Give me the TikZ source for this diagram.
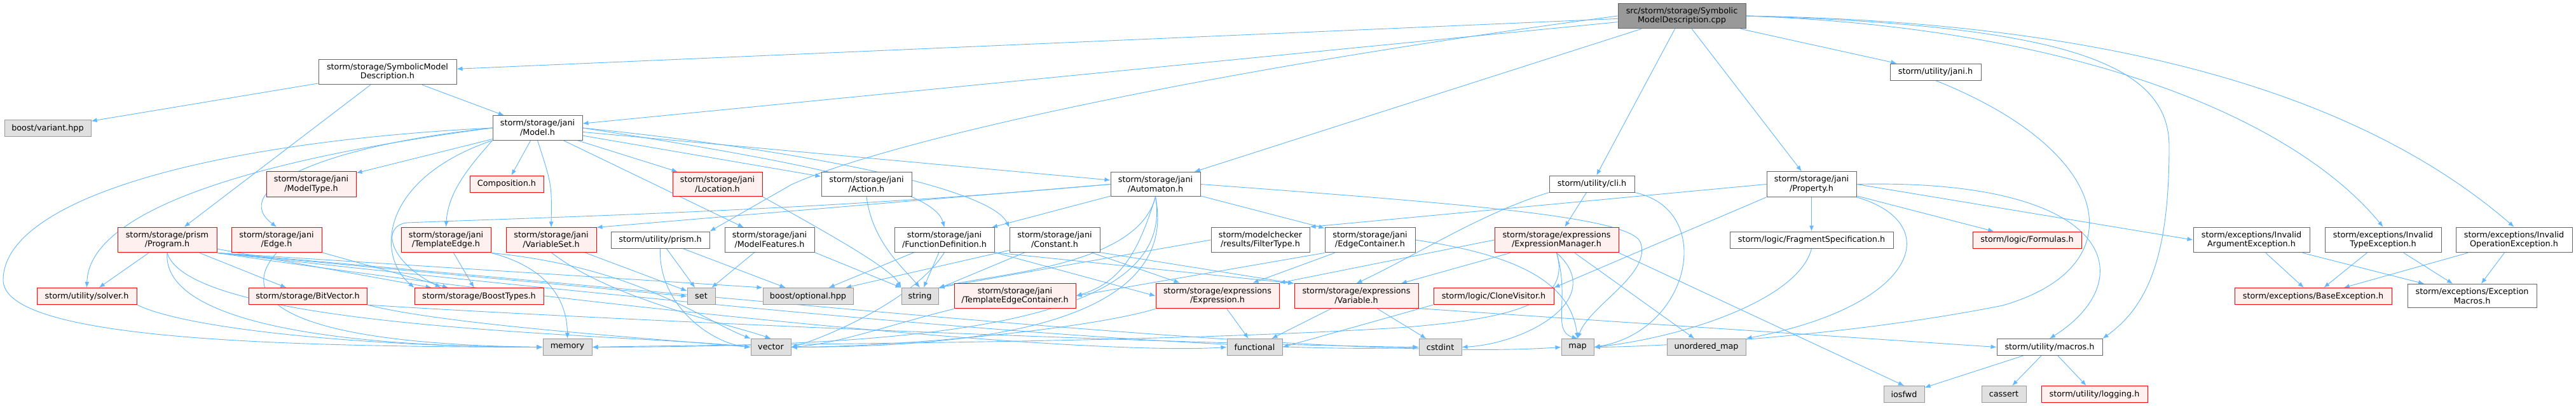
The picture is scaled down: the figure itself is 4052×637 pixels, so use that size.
\documentclass[tikz,border=0pt]{standalone}
\usepackage{fontspec}
\setmainfont{DejaVu Sans}
\usepackage{xcolor}
\usepackage{tikz}
\usetikzlibrary{arrows.meta, backgrounds}

\definecolor{edgeblue}{HTML}{63B8FF}
\definecolor{redfill}{HTML}{FFF0F0}
\definecolor{sysfill}{HTML}{E0E0E0}
\definecolor{sysdraw}{HTML}{999999}
\definecolor{filedraw}{HTML}{666666}
\definecolor{rootfill}{HTML}{999999}

\tikzset{
    file/.style={draw=filedraw, fill=white, line width=1pt, align=center,
        font=\fontsize{12.8}{14.6}\selectfont, inner xsep=4pt, inner ysep=6.4pt,
        minimum height=26pt},
    redfile/.style={file, draw=red, fill=redfill},
    sysfile/.style={file, draw=sysdraw, fill=sysfill},
    rootfile/.style={file, fill=rootfill},
    wd/.style={minimum width=#1pt},
    dep/.style={->, draw=edgeblue, line width=0.9pt}
}

\begin{document}
\begin{tikzpicture}[x=1pt, y=-1pt, >={Latex[length=9pt, width=7pt]}]
    \useasboundingbox (0,0) rectangle (4052,637);

    % Tầng 0 và 1: file gốc và các header trực tiếp
    \node[rootfile, wd=201] (root) at (2645.5,25) {src/storm/storage/Symbolic\\ModelDescription.cpp};
    \node[file, wd=217] (smd) at (609.5,113) {storm/storage/SymbolicModel\\Description.h};
    \node[file, wd=143] (janiutil) at (3044.5,113) {storm/utility/jani.h};
    \node[sysfile, wd=136] (variant) at (75,201.5) {boost/variant.hpp};
    \node[file, wd=141] (model) at (845.5,201) {storm/storage/jani\\/Model.h};

    % Tầng 2
    \node[redfile, wd=141] (modeltype) at (489.5,289.5) {storm/storage/jani\\/ModelType.h};
    \node[redfile, wd=116] (composition) at (797,289) {Composition.h};
    \node[redfile, wd=141] (location) at (1128.5,289.5) {storm/storage/jani\\/Location.h};
    \node[file, wd=142] (action) at (1363,289.5) {storm/storage/jani\\/Action.h};
    \node[file, wd=141] (automaton) at (1817.5,289.5) {storm/storage/jani\\/Automaton.h};
    \node[file, wd=134] (cli) at (2504,289) {storm/utility/cli.h};
    \node[file, wd=141] (property) at (2849.5,289.5) {storm/storage/jani\\/Property.h};

    % Tầng 3
    \node[redfile, wd=156] (program) at (263,377) {storm/storage/prism\\/Program.h};
    \node[redfile, wd=142] (edge) at (435,377) {storm/storage/jani\\/Edge.h};
    \node[redfile, wd=141] (templateedge) at (701.5,377) {storm/storage/jani\\/TemplateEdge.h};
    \node[redfile, wd=142] (variableset) at (867,377) {storm/storage/jani\\/VariableSet.h};
    \node[file, wd=155] (prismutil) at (1038.5,377) {storm/utility/prism.h};
    \node[file, wd=141] (modelfeatures) at (1210.5,377) {storm/storage/jani\\/ModelFeatures.h};
    \node[file, wd=157] (funcdef) at (1485.5,377) {storm/storage/jani\\/FunctionDefinition.h};
    \node[file, wd=142] (constant) at (1659,377) {storm/storage/jani\\/Constant.h};
    \node[file, wd=155] (filtertype) at (1982.5,377) {storm/modelchecker\\/results/FilterType.h};
    \node[file, wd=142] (edgecontainer) at (2155,377) {storm/storage/jani\\/EdgeContainer.h};
    \node[redfile, wd=195] (exprmanager) at (2448.5,377) {storm/storage/expressions\\/ExpressionManager.h};
    \node[file, wd=257] (fragment) at (2849.5,377) {storm/logic/FragmentSpecification.h};
    \node[redfile, wd=171] (formulas) at (3188.5,377) {storm/logic/Formulas.h};
    \node[file, wd=183] (invarg) at (3541.5,377) {storm/exceptions/Invalid\\ArgumentException.h};
    \node[file, wd=183] (invtype) at (3748.5,377) {storm/exceptions/Invalid\\TypeException.h};
    \node[file, wd=183] (invop) at (3954.5,377) {storm/exceptions/Invalid\\OperationException.h};

    % Tầng 4
    \node[redfile, wd=157] (solver) at (136.5,465.5) {storm/utility/solver.h};
    \node[redfile, wd=186] (bitvector) at (484,465.5) {storm/storage/BitVector.h};
    \node[redfile, wd=203] (boosttypes) at (753.5,465.5) {storm/storage/BoostTypes.h};
    \node[sysfile, wd=44] (set) at (1103,465.5) {set};
    \node[sysfile, wd=142] (optional) at (1271,465.5) {boost/optional.hpp};
    \node[sysfile, wd=58] (string) at (1447,465.5) {string};
    \node[redfile, wd=191] (tecontainer) at (1596.5,465) {storm/storage/jani\\/TemplateEdgeContainer.h};
    \node[redfile, wd=194] (expression) at (1915,465) {storm/storage/expressions\\/Expression.h};
    \node[redfile, wd=195] (variable) at (2133.5,465) {storm/storage/expressions\\/Variable.h};
    \node[redfile, wd=189] (clonevisitor) at (2349.5,465.5) {storm/logic/CloneVisitor.h};
    \node[redfile, wd=247] (baseexc) at (3638.5,465.5) {storm/exceptions/BaseException.h};
    \node[file, wd=203] (excmacros) at (3888.5,465) {storm/exceptions/Exception\\Macros.h};

    % Tầng 5 và 6: header hệ thống
    \node[sysfile, wd=77] (memory) at (892.5,545.5) {memory};
    \node[sysfile, wd=63] (vector) at (1212.5,545.5) {vector};
    \node[sysfile, wd=87] (functional) at (1973.5,545.5) {functional};
    \node[sysfile, wd=67] (cstdint) at (2265.5,545.5) {cstdint};
    \node[sysfile, wd=51] (map) at (2481.5,545.5) {map};
    \node[sysfile, wd=124] (umap) at (2684,545.5) {unordered\_map};
    \node[file, wd=166] (macros) at (3224,545.5) {storm/utility/macros.h};
    \node[sysfile, wd=64] (iosfwd) at (2995,619.5) {iosfwd};
    \node[sysfile, wd=70] (cassert) at (3152,619.5) {cassert};
    \node[redfile, wd=167] (logging) at (3294.5,619.5) {storm/utility/logging.h};

    \begin{pgfonlayer}{background}
    \fill[white] (0,0) rectangle (4052,637);

    % Cạnh từ file gốc
    \draw[dep] (root) -- (smd);
    \draw[dep] (root) -- (model);
    \draw[dep] (root.west) .. controls (1900,110) and (1400,220) .. (1245,290) -- (prismutil.north east);
    \draw[dep] (root) -- (automaton);
    \draw[dep] (root) -- (cli);
    \draw[dep] (root) -- (property);
    \draw[dep] (root) -- (janiutil);
    \draw[dep] (root.east) .. controls (3300,45) and (3620,200) .. (invtype.north);
    \draw[dep] (root.east) .. controls (3400,35) and (3750,180) .. (invop.north);
    \draw[dep] (root.east) .. controls (3250,40) and (3412,100) .. (3412,230)
        .. controls (3412,400) and (3380,480) .. (macros.north east);

    % SymbolicModelDescription.h và Model.h
    \draw[dep] (smd) -- (variant);
    \draw[dep] (smd) -- (program);
    \draw[dep] (smd) -- (model);
    \draw[dep] (model) -- (modeltype);
    \draw[dep] (model) -- (composition);
    \draw[dep] (model) -- (location);
    \draw[dep] (model) -- (action);
    \draw[dep] (model) -- (automaton);
    \draw[dep] (model.south) .. controls (868,290) .. (variableset.north);
    \draw[dep] (model) -- (modelfeatures);
    \draw[dep] (model.east) .. controls (1300,260) and (1470,300) .. (funcdef.north);
    \draw[dep] (model.east) .. controls (1300,240) and (1560,300) .. (constant.north west);
    \draw[dep] (model.west) .. controls (500,230) and (360,300) .. (edge.north);
    \draw[dep] (model.south west) .. controls (740,260) and (705,300) .. (templateedge.north);
    \draw[dep] (model.west) .. controls (400,250) and (140,330) .. (solver.north);
    \draw[dep] (model.west) .. controls (300,225) and (5,320) .. (5,440)
        .. controls (5,530) and (400,545) .. (memory.west);
    \draw[dep] (model.south west) .. controls (600,280) and (590,400) .. (boosttypes.north west);

    % Automaton.h
    \draw[dep] (automaton) -- (funcdef);
    \draw[dep] (automaton) -- (edgecontainer);
    \draw[dep] (automaton.west) -- (variableset.north east);
    \draw[dep] (automaton.south) .. controls (1790,400) and (1760,445) .. (tecontainer.east);
    \draw[dep] (automaton.west) .. controls (1300,330) and (900,340) .. (640,350)
        .. controls (600,355) and (610,410) .. ([xshift=-60]boosttypes.north);
    \draw[dep] (automaton.south) .. controls (1790,420) and (1560,430) .. (string.north east);
    \draw[dep] (automaton.south) .. controls (1850,500) and (1500,545) .. (memory.east);
    \draw[dep] (automaton.south) .. controls (1860,520) and (1500,545) .. (vector.east);
    \draw[dep] (automaton.east) .. controls (2300,320) and (2560,340) .. (2580,380)
        .. controls (2600,430) and (2500,480) .. (map.north);

    % Program.h, Edge.h, TemplateEdge.h, VariableSet.h
    \draw[dep] (program) -- (solver);
    \draw[dep] (program) -- (bitvector);
    \draw[dep] (program) -- (boosttypes);
    \draw[dep] (program.south east) -- (set.west);
    \draw[dep] (program.south east) -- (optional.north west);
    \draw[dep] (program.south) .. controls (255,500) and (500,545) .. (memory.west);
    \draw[dep] (program.south) .. controls (300,520) and (1000,525) .. (vector.west);
    \draw[dep] (program.south east) .. controls (900,480) and (1700,560) .. (functional.west);
    \draw[dep] (program.south east) .. controls (1000,470) and (1900,560) .. (cstdint.west);
    \draw[dep] (program.south east) .. controls (1100,460) and (2100,570) .. (map.west);
    \draw[dep] (edge) -- (boosttypes);
    \draw[dep] (edge.south) .. controls (370,470) and (450,540) .. (memory.west);
    \draw[dep] (templateedge) -- (boosttypes);
    \draw[dep] (templateedge.south east) .. controls (860,420) and (892,470) .. (memory.north);
    \draw[dep] (templateedge.south east) .. controls (1000,420) and (1100,500) .. (vector.north west);
    \draw[dep] (variableset) -- (set);
    \draw[dep] (variableset.south) .. controls (960,470) and (1150,510) .. (vector.north);

    % prism.h, ModelFeatures.h, Location.h, Action.h
    \draw[dep] (prismutil) -- (set);
    \draw[dep] (prismutil) -- (optional);
    \draw[dep] (prismutil.south) .. controls (1035,480) and (1120,540) .. (vector.west);
    \draw[dep] (modelfeatures) -- (set);
    \draw[dep] (modelfeatures.south east) -- (string.north west);
    \draw[dep] (location.south east) .. controls (1290,360) and (1400,420) .. (string.north west);
    \draw[dep] (action.south) .. controls (1372,380) and (1420,420) .. (string.north);

    % FunctionDefinition.h, Constant.h, FilterType.h, EdgeContainer.h
    \draw[dep] (funcdef) -- (string);
    \draw[dep] (funcdef) -- (optional);
    \draw[dep] (funcdef.south) .. controls (1440,470) and (1300,530) .. (vector.east);
    \draw[dep] (funcdef.south east) -- (expression.west);
    \draw[dep] (funcdef.south east) -- (variable.north west);
    \draw[dep] (constant) -- (string);
    \draw[dep] (constant) -- (optional);
    \draw[dep] (constant) -- (expression);
    \draw[dep] (constant.south east) -- (variable.north west);
    \draw[dep] (filtertype.west) -- (string.north east);
    \draw[dep] (edgecontainer.south west) -- (tecontainer.east);
    \draw[dep] (edgecontainer) -- (expression);
    \draw[dep] (edgecontainer.east) .. controls (2380,400) and (2470,440) .. (map.north);

    % ExpressionManager.h và cli.h
    \draw[dep] (exprmanager) -- (variable);
    \draw[dep] (exprmanager.west) -- (expression.north east);
    \draw[dep] (exprmanager) -- (umap);
    \draw[dep] (exprmanager.south east) -- (iosfwd.north);
    \draw[dep] (exprmanager.south) .. controls (2470,470) and (2440,520) .. (map.north);
    \draw[dep] (exprmanager.south) .. controls (2530,470) and (2400,540) .. (cstdint.east);
    \draw[dep] (exprmanager.south) .. controls (2470,470) and (2400,500) .. (2200,515)
        .. controls (1800,540) and (1200,540) .. (memory.east);
    \draw[dep] (cli) -- (exprmanager);
    \draw[dep] (cli.south west) .. controls (2330,335) and (2230,400) .. (variable.north);
    \draw[dep] (cli.south east) .. controls (2700,330) and (2660,520) .. (map.east);

    % Property.h, FragmentSpecification.h, jani.h
    \draw[dep] (property.west) -- (filtertype.north east);
    \draw[dep] (property) -- (fragment);
    \draw[dep] (property) -- (formulas);
    \draw[dep] (property.east) -- (invarg.west);
    \draw[dep] (property.south west) -- (clonevisitor.north east);
    \draw[dep] (property.east) .. controls (3330,280) and (3370,440) .. (macros.north);
    \draw[dep] (property.south east) .. controls (3060,350) and (3020,480) .. (umap.north east);
    \draw[dep] (fragment.south) .. controls (2830,470) and (2650,530) .. (map.east);
    \draw[dep] (janiutil.south) .. controls (3330,240) and (3360,420) .. (3150,480)
        .. controls (2900,530) and (2600,545) .. (map.east);

    % Tầng dưới
    \draw[dep] (expression) -- (functional);
    \draw[dep] (expression.south west) .. controls (1700,520) and (1400,545) .. (vector.east);
    \draw[dep] (variable) -- (functional);
    \draw[dep] (variable) -- (cstdint);
    \draw[dep] (variable.south east) -- (macros.west);
    \draw[dep] (clonevisitor.south west) -- (functional.east);
    \draw[dep] (solver.south east) .. controls (300,520) and (600,545) .. (memory.west);
    \draw[dep] (bitvector.south east) .. controls (700,510) and (1000,530) .. (vector.west);
    \draw[dep] (bitvector.south east) .. controls (900,500) and (1800,540) .. (cstdint.west);
    \draw[dep] (tecontainer.south west) .. controls (1400,510) and (1320,540) .. (vector.east);
    \draw[dep] (macros) -- (iosfwd);
    \draw[dep] (macros) -- (cassert);
    \draw[dep] (macros) -- (logging);

    % Các exception
    \draw[dep] (invarg) -- (baseexc);
    \draw[dep] (invarg) -- (excmacros);
    \draw[dep] (invtype) -- (baseexc);
    \draw[dep] (invtype) -- (excmacros);
    \draw[dep] (invop) -- (baseexc);
    \draw[dep] (invop) -- (excmacros);
    \end{pgfonlayer}
\end{tikzpicture}
\end{document}
